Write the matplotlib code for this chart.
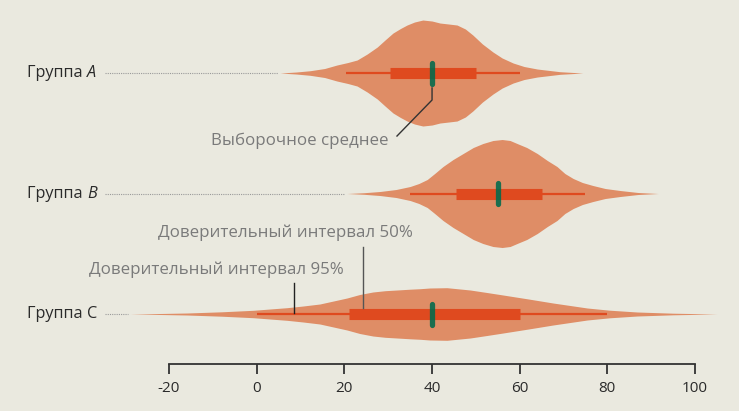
import matplotlib.pyplot as plt
import numpy as np

# group names and summary values
groups = ["A", "B", "C"]
group_italic = [True, True, False]
means = [40, 55, 40]
ci50 = [(30.4, 50.0), (45.5, 65.0), (21.0, 60.0)]
ci95 = [(20.4, 60.0), (35.0, 75.0), (0.0, 80.0)]

# violin outlines: x values and half widths (px)
dens_x_a = [5.3, 9.0, 12.2, 15.5, 18.3, 20.8, 22.9, 25.2, 27.5, 29.4, 31.1, 32.8, 34.3, 36.0,
            37.9, 40.0, 41.8, 43.8, 45.7, 47.6, 49.3, 51.5, 53.9, 56.0, 58.5, 61.0, 64.0, 69.2, 74.4]
dens_w_a = [0.0, 1.0, 2.3, 4.5, 8.0, 10.5, 13.0, 19.0, 26.0, 33.5, 40.0, 44.5, 48.0, 51.0,
            53.0, 52.0, 50.0, 49.0, 48.0, 44.0, 38.0, 29.0, 21.0, 15.0, 10.0, 6.5, 4.0, 1.3, 0.0]
dens_x_b = [20.6, 24.5, 28.1, 31.8, 35.0, 37.0, 38.9, 40.6, 42.5, 44.8, 47.1, 49.4, 51.6, 53.9,
            56.0, 57.8, 59.4, 61.6, 64.0, 66.3, 68.5, 70.3, 72.2, 74.3, 76.7, 79.5, 82.9, 87.0, 91.6]
dens_w_b = [0.0, 0.8, 2.0, 4.0, 7.0, 10.0, 14.0, 20.0, 27.0, 34.0, 40.0, 46.0, 50.0, 53.0,
            54.0, 53.0, 50.0, 46.0, 40.0, 33.0, 27.0, 20.0, 15.0, 11.0, 8.0, 5.0, 3.0, 1.0, 0.0]
dens_x_c = [-28.9, -22.0, -15.9, -8.0, -0.8, 3.0, 6.9, 10.6, 14.4, 17.5, 20.6, 23.5, 26.5, 29.3,
            32.0, 35.0, 37.3, 39.5, 43.4, 48.7, 52.5, 56.2, 62.0, 67.6, 71.5, 75.4, 80.5, 86.8, 95.0, 105.0]
dens_w_c = [0.0, 0.5, 1.0, 2.2, 3.7, 5.0, 6.3, 8.0, 10.0, 13.0, 16.0, 19.5, 22.0, 23.3,
            24.0, 24.8, 25.3, 26.0, 26.3, 24.0, 21.5, 19.0, 15.0, 11.0, 8.5, 6.0, 3.8, 2.0, 0.8, 0.0]

ticks = [-20, 0, 20, 40, 60, 80, 100]

BG = "#eae9df"
VIOLIN = "#df8d66"
BOX = "#df4a1f"
GREEN = "#006a4c"
GREY_TXT = "#7a7a7a"

plt.rcParams['font.family'] = ['Open Sans', 'DejaVu Sans']

fig = plt.figure(figsize=(7.39, 4.11), dpi=100, facecolor=BG)
ax = fig.add_axes([0, 0, 1, 1], facecolor=BG)
ax.set_xlim(-58.57, 110.03)
ax.set_ylim(2.805, -0.606)

px = 1 / 120.5  # one pixel in y units
dens = [(dens_x_a, dens_w_a), (dens_x_b, dens_w_b), (dens_x_c, dens_w_c)]

for i, (g, ital) in enumerate(zip(groups, group_italic)):
    dx, dw = dens[i]
    dx = np.array(dx)
    dw = np.array(dw) * px
    ax.fill_between(dx, i - dw, i + dw, color=VIOLIN, lw=0, zorder=2)
    ax.plot(ci95[i], [i, i], color=BOX, lw=1.6, solid_capstyle='butt', zorder=3)
    ax.plot(ci50[i], [i, i], color=BOX, lw=8.0, solid_capstyle='butt', zorder=4)
    ax.plot([means[i], means[i]], [i - 10.5 * px, i + 10.5 * px], color=GREEN, lw=3.8,
            solid_capstyle='round', alpha=0.88, zorder=5)
    # label and dotted leader
    t = ax.text(-52.4, i, "Группа ", ha='left', va='center', fontsize=11.7, color="#2a2a2a")
    ax.annotate(g, xy=(1, 0.5), xycoords=t, ha='left', va='center', fontsize=11.7,
                color="#2a2a2a", style='italic' if ital else 'normal')
    ax.plot([-34.6, dx[0] - 0.4], [i, i], color="#9a9a9a", lw=0.8, ls=(0, (1, 1)), zorder=1)

# annotations
ax.plot([40, 40, 32.0], [0.124, 0.224, 0.523], color="#333333", lw=1.0, zorder=6)
ax.text(29.96, 0.564, "Выборочное среднее", ha='right', va='center', fontsize=12.2, color=GREY_TXT)

ax.plot([24.25, 24.25], [1.444, 1.950], color="#555555", lw=1.0, zorder=6)
ax.text(6.45, 1.328, "Доверительный интервал 50%", ha='center', va='center', fontsize=12.2, color=GREY_TXT)

ax.plot([8.5, 8.5], [1.743, 1.992], color="#222222", lw=1.0, zorder=6)
ax.text(-9.3, 1.635, "Доверительный интервал 95%", ha='center', va='center', fontsize=12.2, color=GREY_TXT)

# x axis
for s in ['top', 'left', 'right']:
    ax.spines[s].set_visible(False)
ax.spines['bottom'].set_position(('data', 2.415))
ax.spines['bottom'].set_bounds(-20, 100)
ax.spines['bottom'].set_linewidth(1.3)
ax.spines['bottom'].set_color("#333333")
ax.set_xticks(ticks)
ax.set_xticklabels([str(v) for v in ticks])
ax.tick_params(axis='x', direction='out', length=7.5, width=1.3, color="#333333",
               labelsize=11, labelcolor="#2a2a2a", pad=5)
ax.set_yticks([])

fig.savefig("out.png", dpi=100, facecolor=BG)
